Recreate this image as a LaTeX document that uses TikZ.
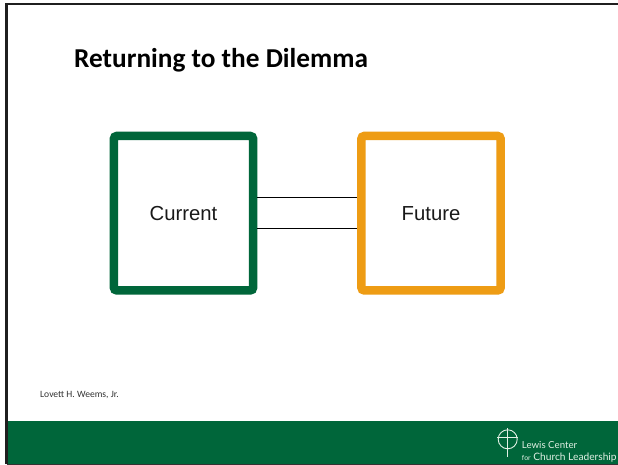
\documentclass[tikz,border=0pt]{standalone}
\usepackage{fontspec}
\setmainfont{Liberation Sans}
\newfontfamily\carlito{Carlito}
\newfontfamily\logofont{Lato}
\usetikzlibrary{calc}
\definecolor{lcgreen}{RGB}{0,102,58}
\definecolor{lcorange}{RGB}{238,156,20}
\definecolor{logotext}{RGB}{225,240,228}
\tikzset{
  framebox/.style={draw=#1,line width=8.5pt,fill=white,rounded corners=3pt,
    minimum width=139.3pt,minimum height=154.5pt,inner sep=0pt,
    text height=15pt,text depth=0pt,
    font=\fontsize{20.3}{24}\selectfont,text=black!90},
  bridge/.style={draw=black,line width=0.9pt},
  logoline/.style={draw=logotext,line width=0.9pt}
}
\begin{document}
\begin{tikzpicture}[x=1pt,y=-1pt]
\useasboundingbox (0,0) rectangle (618,465);
\clip (0,0) rectangle (618,465);
\fill[white] (0,0) rectangle (618,465);
% slide
\fill[lcgreen] (6.5,421) rectangle (618,463.5);
\draw[black!88,line width=2.6pt] (6.5,464) -- (6.5,4.2) -- (618,4.2);
\draw[black!80,line width=1.2pt] (6.5,464.4) -- (618,464.4);
% title
\node[anchor=base west,inner sep=0pt,font=\carlito\bfseries\fontsize{27.3}{30}\selectfont] (title) at (74,68) {Returning to the Dilemma};
% boxes
\node[framebox=lcgreen] (cur) at (183.5,213.2) {Current};
\node[framebox=lcorange] (fut) at (431,213.2) {Future};
\draw[bridge] ($(cur.east)+(0,-15.7)$) -- ($(fut.west)+(0,-15.7)$);
\draw[bridge] ($(cur.east)+(0,15.3)$) -- ($(fut.west)+(0,15.3)$);
% author
\node[anchor=base west,inner sep=0pt,text=black!80,font=\carlito\fontsize{9.6}{11}\selectfont] (author) at (40,397) {Lovett H. Weems, Jr.};
% logo
\node[circle,logoline,minimum size=19pt,inner sep=0pt] (ring) at (507.7,439.3) {};
\coordinate (crossT) at (507.7,428.3);
\coordinate (crossB) at (507.7,457);
\coordinate (crossL) at (497,437.3);
\coordinate (crossR) at (518.4,437.3);
\draw[logoline] (crossT) -- (crossB);
\draw[logoline] (crossL) -- (crossR);
\node[anchor=base west,inner sep=0pt,text=logotext,font=\logofont\fontsize{9.7}{12}\selectfont] (logoa) at (521.7,448.2) {Lewis Center};
\node[anchor=base west,inner sep=0pt,text=logotext,font=\logofont\fontsize{10.2}{12}\selectfont] (logob) at (521.7,460) {{\fontsize{7}{9}\selectfont for} Church Leadership};
\end{tikzpicture}
\end{document}
